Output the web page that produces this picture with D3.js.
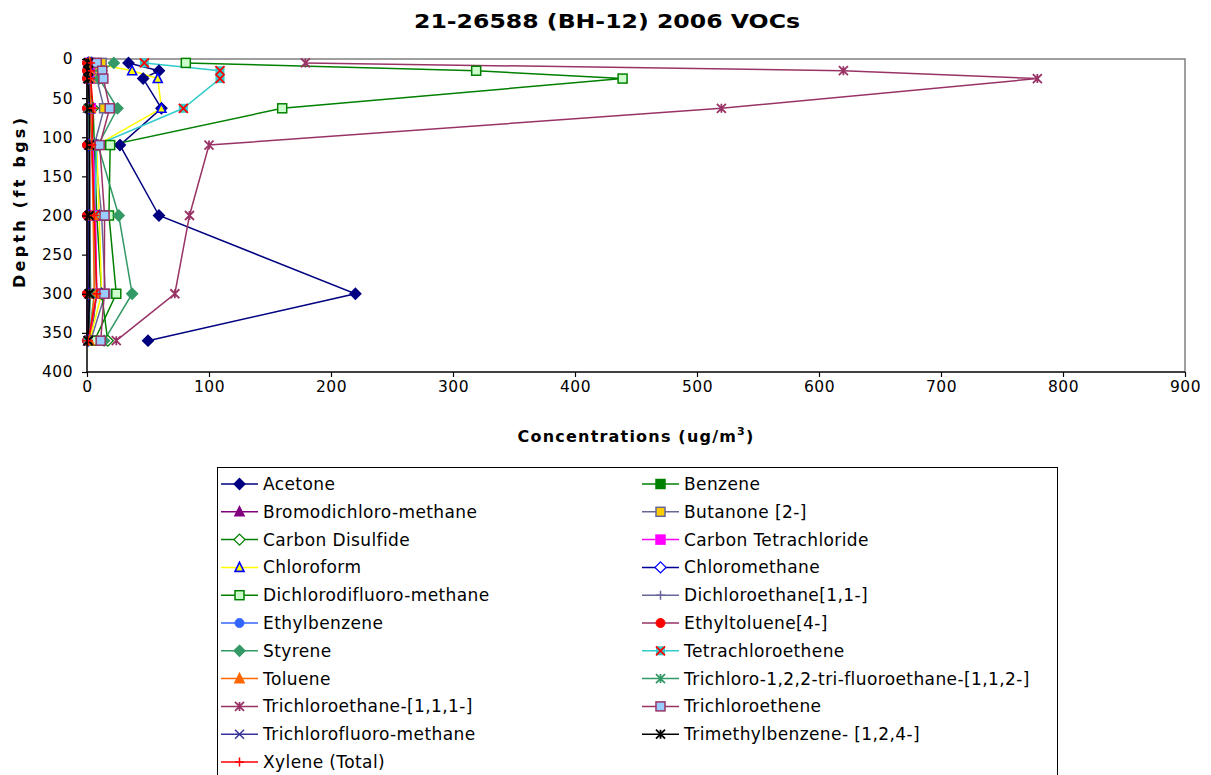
<!DOCTYPE html>
<html><head><meta charset="utf-8">
<script src="https://cdn.jsdelivr.net/npm/d3@7/dist/d3.min.js"></script>
<style>body{margin:0;background:#fff;} text{font-family:"DejaVu Sans",Verdana,sans-serif;}</style>
</head><body><svg id="c" width="1211" height="775"></svg>
<script>
const depths = [5, 15, 25, 63, 110, 200, 300, 360];
const xTicks = [0,100,200,300,400,500,600,700,800,900];
const yTicks = [0,50,100,150,200,250,300,350,400];

const acetone = [34, 59, 46, 61, 27, 59, 220, 50];
const benzene = [3, 2, 2, 3, 4, 6, 8, 3];
const bromodichloromethane = [1, 1, 1, 1, 2, 2, 2, 1];
const butanone = [12, 10, 8, 14, 6, 12, 15, 3];
const carbonDisulfide = [3, 2, 2, 5, 6, 8, 12, 17];
const carbonTetrachloride = [2, 2, 2, 3, 5, 7, 8, 2];
const chloroform = [4, 37, 58, 61, 8, 10, 12, 2];
const chloromethane = [1, 1, 1, 1, 1, 1, 1, 1];
const dichlorodifluoromethane = [81, 319, 439, 160, 19, 18, 24, 6];
const dichloroethane = [1, 1, 1, 1, 1, 2, 2, 1];
const ethylbenzene = [0, 0, 0, 0, 0, 0, 0, 0];
const ethyltoluene = [0, 0, 0, 0, 0, 0, 0, 0];
const styrene = [22, 12, 10, 25, 9, 26, 37, 14];
const tetrachloroethene = [47, 109, 109, 79, 8, 6, 6, 1];
const toluene = [2, 2, 2, 3, 4, 5, 6, 2];
const trichlorotrifluoroethane = [1, 1, 1, 1, 2, 2, 3, 1];
const trichloroethane111 = [179, 620, 779, 520, 100, 84, 72, 24];
const trichloroethene = [8, 12.5, 13.4, 18.6, 10.4, 14.4, 14.2, 11.2];
const trichlorofluoromethane = [1.5, 1.5, 1.5, 2, 2, 2, 2, 1];
const trimethylbenzene = [1, 1, 1, 2, 2, 2, 2, 1];
const xylene = [3, 3, 3, 5, 4, 6, 8, 1];

const seriesNames = ["Acetone","Benzene","Bromodichloro-methane","Butanone [2-]","Carbon Disulfide","Carbon Tetrachloride","Chloroform","Chloromethane","Dichlorodifluoro-methane","Dichloroethane[1,1-]","Ethylbenzene","Ethyltoluene[4-]","Styrene","Tetrachloroethene","Toluene","Trichloro-1,2,2-tri-fluoroethane-[1,1,2-]","Trichloroethane-[1,1,1-]","Trichloroethene","Trichlorofluoro-methane","Trimethylbenzene- [1,2,4-]","Xylene (Total)"];
const seriesValues = [acetone,benzene,bromodichloromethane,butanone,carbonDisulfide,carbonTetrachloride,chloroform,chloromethane,dichlorodifluoromethane,dichloroethane,ethylbenzene,ethyltoluene,styrene,tetrachloroethene,toluene,trichlorotrifluoroethane,trichloroethane111,trichloroethene,trichlorofluoromethane,trimethylbenzene,xylene];
const styles = [
 {line:"#000080", m:"diamond", fill:"#000080", st:"#000080"},
 {line:"#008000", m:"square", fill:"#008000", st:"#008000"},
 {line:"#800080", m:"triangle", fill:"#800080", st:"#800080"},
 {line:"#666699", m:"square", fill:"#FFCC00", st:"#666699"},
 {line:"#008000", m:"diamond", fill:"#FFFFFF", st:"#008000"},
 {line:"#FF00FF", m:"square", fill:"#FF00FF", st:"#FF00FF"},
 {line:"#FFFF00", m:"triangle", fill:"#FFFF00", st:"#0000FF"},
 {line:"#000099", m:"diamond", fill:"#FFFFFF", st:"#0000FF"},
 {line:"#008000", m:"square", fill:"#CCFFCC", st:"#008000"},
 {line:"#666699", m:"plus", fill:"none", st:"#666699"},
 {line:"#3366FF", m:"circle", fill:"#3366FF", st:"#3366FF"},
 {line:"#993366", m:"circle", fill:"#FF0000", st:"#FF0000"},
 {line:"#339966", m:"diamond", fill:"#339966", st:"#339966"},
 {line:"#33CCCC", m:"xsquare", fill:"#33CCCC", st:"#FF0000"},
 {line:"#FF6600", m:"triangle", fill:"#FF6600", st:"#FF6600"},
 {line:"#339966", m:"star", fill:"none", st:"#339966"},
 {line:"#993366", m:"star", fill:"none", st:"#993366"},
 {line:"#993366", m:"square", fill:"#99CCFF", st:"#993366"},
 {line:"#333399", m:"x", fill:"none", st:"#333399"},
 {line:"#000000", m:"star", fill:"none", st:"#000000"},
 {line:"#FF0000", m:"plus", fill:"none", st:"#FF0000"}
];

const svg = d3.select("#c");
const L = 87, R = 1185, T = 59, B = 372;
const x = d3.scaleLinear().domain([0,900]).range([L,R]);
const y = d3.scaleLinear().domain([0,400]).range([T,B]);

function marker(g, m, cx, cy, s) {
  const r = 4.5;
  if (m === "diamond") g.append("path").attr("d",`M${cx},${cy-r-1}L${cx+r+1},${cy}L${cx},${cy+r+1}L${cx-r-1},${cy}Z`).attr("fill",s.fill).attr("stroke",s.st).attr("stroke-width",1.3);
  else if (m === "square") g.append("rect").attr("x",cx-r).attr("y",cy-r).attr("width",2*r).attr("height",2*r).attr("fill",s.fill).attr("stroke",s.st).attr("stroke-width",1.5);
  else if (m === "triangle") g.append("path").attr("d",`M${cx},${cy-r-0.5}L${cx+r},${cy+r-0.5}L${cx-r},${cy+r-0.5}Z`).attr("fill",s.fill).attr("stroke",s.st).attr("stroke-width",1.6);
  else if (m === "circle") g.append("circle").attr("cx",cx).attr("cy",cy).attr("r",r).attr("fill",s.fill).attr("stroke",s.st);
  else if (m === "plus") g.append("path").attr("d",`M${cx-r},${cy}H${cx+r}M${cx},${cy-r}V${cy+r}`).attr("stroke",s.st).attr("stroke-width",1.5).attr("fill","none");
  else if (m === "x") g.append("path").attr("d",`M${cx-r},${cy-r}L${cx+r},${cy+r}M${cx-r},${cy+r}L${cx+r},${cy-r}`).attr("stroke",s.st).attr("stroke-width",1.5).attr("fill","none");
  else if (m === "star") g.append("path").attr("d",`M${cx-r},${cy-r}L${cx+r},${cy+r}M${cx-r},${cy+r}L${cx+r},${cy-r}M${cx},${cy-r}V${cy+r}`).attr("stroke",s.st).attr("stroke-width",1.8).attr("fill","none");
  else if (m === "xsquare") {
    g.append("rect").attr("x",cx-r).attr("y",cy-r).attr("width",2*r).attr("height",2*r).attr("fill",s.fill);
    g.append("path").attr("d",`M${cx-r},${cy-r}L${cx+r},${cy+r}M${cx-r},${cy+r}L${cx+r},${cy-r}`).attr("stroke",s.st).attr("stroke-width",1.8).attr("fill","none");
  }
}

// title
svg.append("text").attr("x",607).attr("y",28).attr("text-anchor","middle").attr("font-size",20).attr("font-weight","bold")
  .attr("textLength",386).attr("lengthAdjust","spacingAndGlyphs").text("21-26588 (BH-12) 2006 VOCs");

// plot border
svg.append("path").attr("d",`M${L},${T}H${R}V${B}`).attr("fill","none").attr("stroke","#808080").attr("stroke-width",1.5);

// series
const plot = svg.append("g");
const line = d3.line().x(d=>x(d[0])).y(d=>y(d[1]));
seriesValues.forEach((vals,i)=>{
  const pts = vals.map((v,j)=>[v,depths[j]]);
  plot.append("path").attr("d",line(pts)).attr("fill","none").attr("stroke",styles[i].line).attr("stroke-width",1.5);
});
seriesValues.forEach((vals,i)=>{
  const g = plot.append("g");
  vals.forEach((v,j)=>marker(g, styles[i].m, x(v), y(depths[j]), styles[i]));
});

// axes
const ya = svg.append("g").attr("transform",`translate(${L},0)`).call(d3.axisLeft(y).tickValues(yTicks).tickSize(5).tickPadding(9));
const xa = svg.append("g").attr("transform",`translate(0,${B})`).call(d3.axisBottom(x).tickValues(xTicks).tickSize(5).tickPadding(4));
[ya,xa].forEach(a=>{
  a.select(".domain").remove();
  a.selectAll("line").attr("stroke","#000").attr("stroke-width",1.2);
  a.selectAll("text").attr("font-size",15.5).attr("font-family","DejaVu Sans, Verdana, sans-serif").attr("fill","#000").attr("letter-spacing",0.5);
});
svg.append("line").attr("x1",L).attr("x2",L).attr("y1",T).attr("y2",B).attr("stroke","#000").attr("stroke-width",1.5);
svg.append("line").attr("x1",L).attr("x2",R).attr("y1",B).attr("y2",B).attr("stroke","#000").attr("stroke-width",1.5);

// axis titles
const xt = svg.append("text").attr("x",636).attr("y",442).attr("text-anchor","middle").attr("font-size",16).attr("font-weight","bold").attr("letter-spacing",1.2);
xt.append("tspan").text("Concentrations (ug/m");
xt.append("tspan").attr("font-size",11).attr("dy",-7).text("3");
xt.append("tspan").attr("dy",7).text(")");
svg.append("text").attr("transform","translate(25,203) rotate(-90)").attr("text-anchor","middle").attr("font-size",16).attr("font-weight","bold")
  .attr("textLength",170).attr("lengthAdjust","spacing").text("Depth (ft bgs)");

// legend
svg.append("rect").attr("x",217.5).attr("y",467.5).attr("width",840).attr("height",330).attr("fill","#fff").attr("stroke","#000").attr("stroke-width",1);
seriesNames.forEach((n,i)=>{
  const col = i%2, row = Math.floor(i/2);
  const lx = col===0 ? 221 : 642;
  const ly = 484 + row*27.8;
  const g = svg.append("g");
  g.append("line").attr("x1",lx).attr("x2",lx+37).attr("y1",ly).attr("y2",ly).attr("stroke",styles[i].line).attr("stroke-width",1.5);
  marker(g, styles[i].m, lx+18.5, ly, styles[i]);
  g.append("text").attr("x",lx+42).attr("y",ly+6).attr("font-size",17).attr("letter-spacing",0.4).attr("fill","#000").text(n);
});
</script></body></html>
